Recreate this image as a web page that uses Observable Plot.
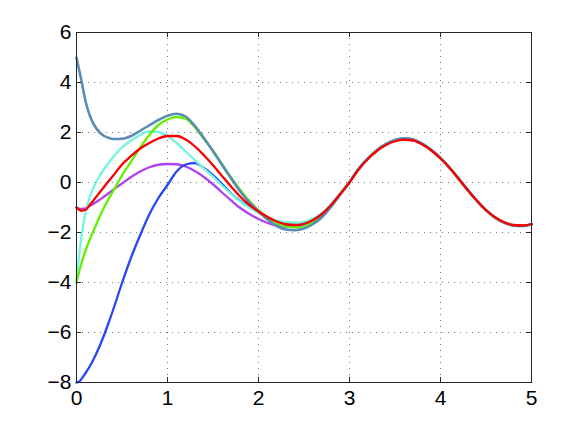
<!DOCTYPE html>
<html><head><meta charset="utf-8">
<script src="https://cdn.jsdelivr.net/npm/d3@7"></script>
<script src="https://cdn.jsdelivr.net/npm/@observablehq/plot@0.6"></script>
<style>html,body{margin:0;padding:0;background:#fff;}</style>
</head><body><div id="chart"></div>
<script>
const xs = [0, 0.025, 0.05, 0.1, 0.15, 0.2, 0.25, 0.3, 0.35, 0.4, 0.5, 0.6, 0.7, 0.8, 0.9, 1.0, 1.1, 1.2, 1.3, 1.4, 1.5, 1.6, 1.7, 1.8, 1.9, 2.0, 2.1, 2.2, 2.3, 2.4, 2.5, 2.6, 2.7, 2.8, 2.9, 3.0, 3.1, 3.2, 3.3, 3.4, 3.5, 3.6, 3.7, 3.8, 3.9, 4.0, 4.1, 4.2, 4.3, 4.4, 4.5, 4.6, 4.7, 4.8, 4.9, 5.0];

const yPurple = [-1.0, -1.04, -1.06, -1.02, -0.93, -0.82, -0.70, -0.57, -0.44, -0.30, -0.04, 0.22, 0.44, 0.61, 0.71, 0.74, 0.73, 0.64, 0.46, 0.22, -0.07, -0.40, -0.72, -1.02, -1.26, -1.46, -1.62, -1.72, -1.77, -1.77, -1.70, -1.55, -1.29, -0.90, -0.45,
  0.01, 0.54, 0.95, 1.28, 1.53, 1.69, 1.76, 1.71, 1.54, 1.29, 0.97, 0.59, 0.15, -0.30, -0.73, -1.11, -1.40, -1.60, -1.71, -1.73, -1.67];
const yBlue = [-8.0, -7.97, -7.88, -7.62, -7.33, -6.98, -6.58, -6.13, -5.64, -5.12, -4.02, -3.00, -2.10, -1.28, -0.62, -0.10, 0.44, 0.72, 0.78, 0.58, 0.30, -0.06, -0.44, -0.74, -0.98, -1.20, -1.40, -1.56, -1.67, -1.70, -1.65, -1.50, -1.26, -0.89, -0.45,
  0.01, 0.54, 0.95, 1.28, 1.53, 1.69, 1.76, 1.71, 1.54, 1.29, 0.97, 0.59, 0.15, -0.30, -0.73, -1.11, -1.40, -1.60, -1.71, -1.73, -1.67];
const yCyan = [-4.0, -3.05, -2.30, -1.18, -0.55, -0.10, 0.24, 0.52, 0.77, 1.00, 1.40, 1.68, 1.90, 2.05, 2.02, 1.86, 1.58, 1.24, 0.90, 0.56, 0.24, -0.12, -0.45, -0.76, -1.00, -1.20, -1.38, -1.52, -1.59, -1.61, -1.57, -1.44, -1.22, -0.86, -0.42,
  0.02, 0.55, 0.96, 1.29, 1.54, 1.70, 1.77, 1.72, 1.55, 1.30, 0.98, 0.60, 0.16, -0.30, -0.73, -1.11, -1.41, -1.61, -1.72, -1.74, -1.67];
const yGreen = [-4.0, -3.62, -3.29, -2.72, -2.24, -1.82, -1.40, -1.02, -0.68, -0.36, 0.28, 0.84, 1.40, 1.90, 2.30, 2.52, 2.62, 2.55, 2.21, 1.74, 1.28, 0.74, 0.20, -0.30, -0.74, -1.10, -1.40, -1.63, -1.76, -1.80, -1.75, -1.58, -1.31, -0.91, -0.45,
  0.01, 0.54, 0.95, 1.28, 1.53, 1.69, 1.76, 1.71, 1.54, 1.29, 0.97, 0.59, 0.15, -0.30, -0.73, -1.11, -1.40, -1.60, -1.71, -1.73, -1.67];
const ySteel = [5.0, 4.57, 4.15, 3.24, 2.64, 2.26, 2.02, 1.87, 1.79, 1.74, 1.75, 1.86, 2.07, 2.29, 2.50, 2.67, 2.75, 2.64, 2.27, 1.78, 1.25, 0.70, 0.16, -0.36, -0.80, -1.15, -1.48, -1.74, -1.88, -1.91, -1.84, -1.66, -1.38, -0.96, -0.48,
  0.02, 0.55, 0.96, 1.29, 1.54, 1.70, 1.77, 1.72, 1.55, 1.30, 0.98, 0.60, 0.16, -0.30, -0.73, -1.11, -1.41, -1.61, -1.72, -1.74, -1.67];
const yRed = [-1.0, -1.08, -1.13, -1.09, -0.88, -0.65, -0.42, -0.19, 0.04, 0.26, 0.72, 1.06, 1.36, 1.58, 1.76, 1.86, 1.86, 1.72, 1.45, 1.09, 0.69, 0.26, -0.17, -0.57, -0.90, -1.16, -1.38, -1.56, -1.67, -1.70, -1.65, -1.50, -1.25, -0.89, -0.45,
  0.00, 0.52, 0.93, 1.26, 1.50, 1.65, 1.71, 1.68, 1.52, 1.28, 0.96, 0.58, 0.14, -0.31, -0.73, -1.10, -1.39, -1.59, -1.70, -1.72, -1.66];

const seriesNames = ["purple", "blue", "cyan", "green", "steel", "red"];
const seriesColors = ["#b040f0", "#2a45f5", "#72f5e0", "#62f000", "#5a8cb4", "#f80000"];
const seriesValues = [yPurple, yBlue, yCyan, yGreen, ySteel, yRed];

const xTicks = [0, 1, 2, 3, 4, 5];
const yTicks = [-8, -6, -4, -2, 0, 2, 4, 6];

const xDomain = [0, 5], yDomain = [-8, 6];
const fmt = d => d < 0 ? "\u2212" + Math.abs(d) : String(d);

const lineMarks = seriesNames.map((name, k) =>
  Plot.line(xs.map((x, i) => ({x, y: seriesValues[k][i]})),
    {x: "x", y: "y", stroke: seriesColors[k], strokeWidth: name === "steel" ? 2.6 : 2.3, curve: "monotone-x"}));

// inward tick length expressed as a fraction of each domain
const tx = (xDomain[1] - xDomain[0]) * 5 / 455;
const ty = (yDomain[1] - yDomain[0]) * 5 / 350;

const chart = Plot.plot({
  width: 584, height: 431,
  marginLeft: 76, marginRight: 53, marginTop: 32, marginBottom: 49,
  style: {fontFamily: "'Liberation Sans', Arial, sans-serif", fontSize: "21px", background: "#fff", color: "#000"},
  x: {domain: xDomain, label: null},
  y: {domain: yDomain, label: null},
  marks: [
    Plot.gridX(xTicks, {stroke: "#7a7a7a", strokeOpacity: 1, strokeDasharray: "1,5"}),
    Plot.gridY(yTicks, {stroke: "#7a7a7a", strokeOpacity: 1, strokeDasharray: "1,5"}),
    ...lineMarks,
    Plot.frame({stroke: "#262626", strokeWidth: 1}),
    Plot.ruleX(xTicks, {x: d => d, y1: yDomain[0], y2: yDomain[0] + ty, stroke: "#262626"}),
    Plot.ruleX(xTicks, {x: d => d, y1: yDomain[1], y2: yDomain[1] - ty, stroke: "#262626"}),
    Plot.ruleY(yTicks, {y: d => d, x1: xDomain[0], x2: xDomain[0] + tx, stroke: "#262626"}),
    Plot.ruleY(yTicks, {y: d => d, x1: xDomain[1], x2: xDomain[1] - tx, stroke: "#262626"}),
    Plot.axisX(xTicks, {tickSize: 0, tickPadding: 8, tickFormat: fmt, fontSize: 21, label: null}),
    Plot.axisY(yTicks, {tickSize: 0, tickPadding: 5, tickFormat: fmt, fontSize: 21, label: null})
  ]
});
document.getElementById("chart").appendChild(chart);
</script>
</body></html>
